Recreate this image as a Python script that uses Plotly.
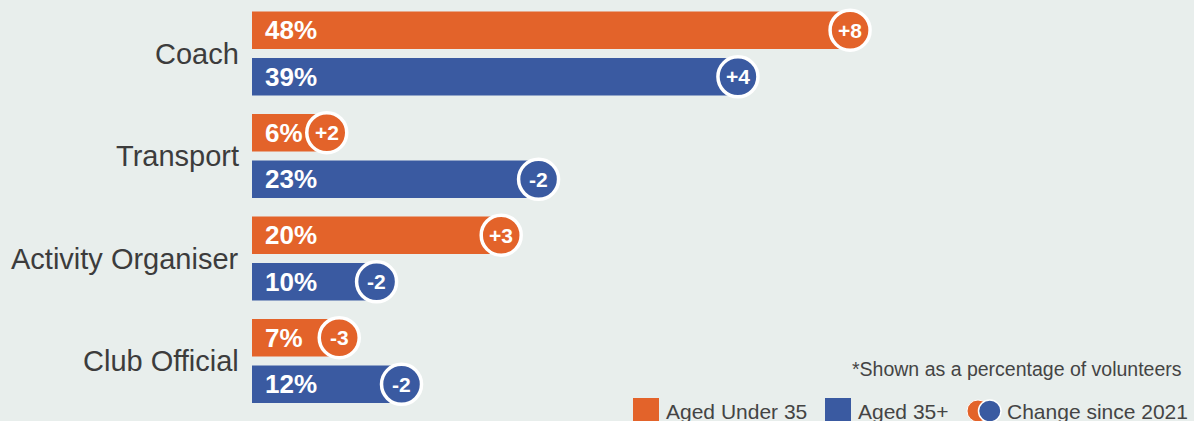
import plotly.graph_objects as go

categories = ["Coach", "Transport", "Activity Organiser", "Club Official"]
under35 = [48, 6, 20, 7]
over35 = [39, 23, 10, 12]
change_under35 = ["+8", "+2", "+3", "-3"]
change_over35 = ["+4", "-2", "-2", "-2"]
legend_labels = ["Aged Under 35", "Aged 35+", "Change since 2021"]
note = "*Shown as a percentage of volunteers"

ORANGE = "#E3632A"
BLUE = "#3A5AA1"
BG = "#E8EEEC"
FONT = "Liberation Sans, Arial, Helvetica, sans-serif"

W, H = 1194, 421
L = 252
PPU = 12.46  # pixels per percent
OFF = 0.227
BW = 0.366

g = list(range(len(categories)))
y_o = [i - OFF for i in g]
y_b = [i + OFF for i in g]

def px(xp):
    return (xp - L) / (W - L)

def py(yp):
    return 1 - yp / H

fig = go.Figure()
fig.add_trace(go.Bar(x=under35, y=y_o, orientation="h", width=BW,
                     marker=dict(color=ORANGE, line=dict(width=0)),
                     hoverinfo="skip", showlegend=False))
fig.add_trace(go.Bar(x=over35, y=y_b, orientation="h", width=BW,
                     marker=dict(color=BLUE, line=dict(width=0)),
                     hoverinfo="skip", showlegend=False))
fig.add_trace(go.Scatter(x=under35, y=y_o, mode="markers",
                         marker=dict(size=40, color=ORANGE, line=dict(color="white", width=3.5)),
                         hoverinfo="skip", showlegend=False, cliponaxis=False))
fig.add_trace(go.Scatter(x=over35, y=y_b, mode="markers",
                         marker=dict(size=40, color=BLUE, line=dict(color="white", width=3.5)),
                         hoverinfo="skip", showlegend=False, cliponaxis=False))

ann = []
circ_font = dict(family=FONT, size=21, color="white", weight=700)
for i, c in enumerate(categories):
    ann.append(dict(x=0, y=g[i], xref="x", yref="y", text=c, showarrow=False,
                    xanchor="right", yanchor="middle", xshift=-11,
                    font=dict(family=FONT, size=29, color="#3C3C3C")))
    ann.append(dict(x=0, y=y_o[i], xref="x", yref="y", text=f"{under35[i]}%", showarrow=False,
                    xanchor="left", yanchor="middle", xshift=11,
                    font=dict(family=FONT, size=26, color="white", weight=700)))
    ann.append(dict(x=0, y=y_b[i], xref="x", yref="y", text=f"{over35[i]}%", showarrow=False,
                    xanchor="left", yanchor="middle", xshift=11,
                    font=dict(family=FONT, size=26, color="white", weight=700)))
    ann.append(dict(x=under35[i], y=y_o[i], xref="x", yref="y", text=change_under35[i],
                    showarrow=False, xanchor="center", yanchor="middle", font=circ_font))
    ann.append(dict(x=over35[i], y=y_b[i], xref="x", yref="y", text=change_over35[i],
                    showarrow=False, xanchor="center", yanchor="middle", font=circ_font))

legend_font = dict(family=FONT, size=21, color="#444444")
ann.append(dict(x=px(1184), y=py(369), xref="paper", yref="paper", text=note, showarrow=False,
                xanchor="right", yanchor="middle",
                font=dict(family=FONT, size=19.5, color="#444444")))
ann.append(dict(x=px(664), y=py(411), xref="paper", yref="paper", text=legend_labels[0],
                showarrow=False, xanchor="left", yanchor="middle", font=legend_font))
ann.append(dict(x=px(856), y=py(411), xref="paper", yref="paper", text=legend_labels[1],
                showarrow=False, xanchor="left", yanchor="middle", font=legend_font))
ann.append(dict(x=px(1005), y=py(411), xref="paper", yref="paper", text=legend_labels[2],
                showarrow=False, xanchor="left", yanchor="middle", font=legend_font))

shapes = [
    dict(type="rect", xref="paper", yref="paper", x0=px(633), x1=px(659), y0=py(424), y1=py(398),
         fillcolor=ORANGE, line=dict(width=0)),
    dict(type="rect", xref="paper", yref="paper", x0=px(825), x1=px(851), y0=py(424), y1=py(398),
         fillcolor=BLUE, line=dict(width=0)),
    dict(type="circle", xref="paper", yref="paper", x0=px(967), x1=px(989), y0=py(422), y1=py(400),
         fillcolor=ORANGE, line=dict(width=1, color="white")),
    dict(type="circle", xref="paper", yref="paper", x0=px(978.5), x1=px(1001), y0=py(422), y1=py(400),
         fillcolor=BLUE, line=dict(width=1.5, color="white")),
]

fig.update_layout(
    width=W, height=H,
    margin=dict(l=L, r=0, t=0, b=0, pad=0),
    paper_bgcolor=BG, plot_bgcolor=BG,
    barmode="overlay",
    xaxis=dict(range=[0, (W - L) / PPU], visible=False, fixedrange=True),
    yaxis=dict(range=[(H - 53.5) / 102.5, -53.5 / 102.5], visible=False, fixedrange=True),
    annotations=ann, shapes=shapes,
    hovermode=False,
)

fig.write_html("out.html", config={"displayModeBar": False},
               post_script="document.body.style.margin='0';document.body.style.overflow='hidden';")
